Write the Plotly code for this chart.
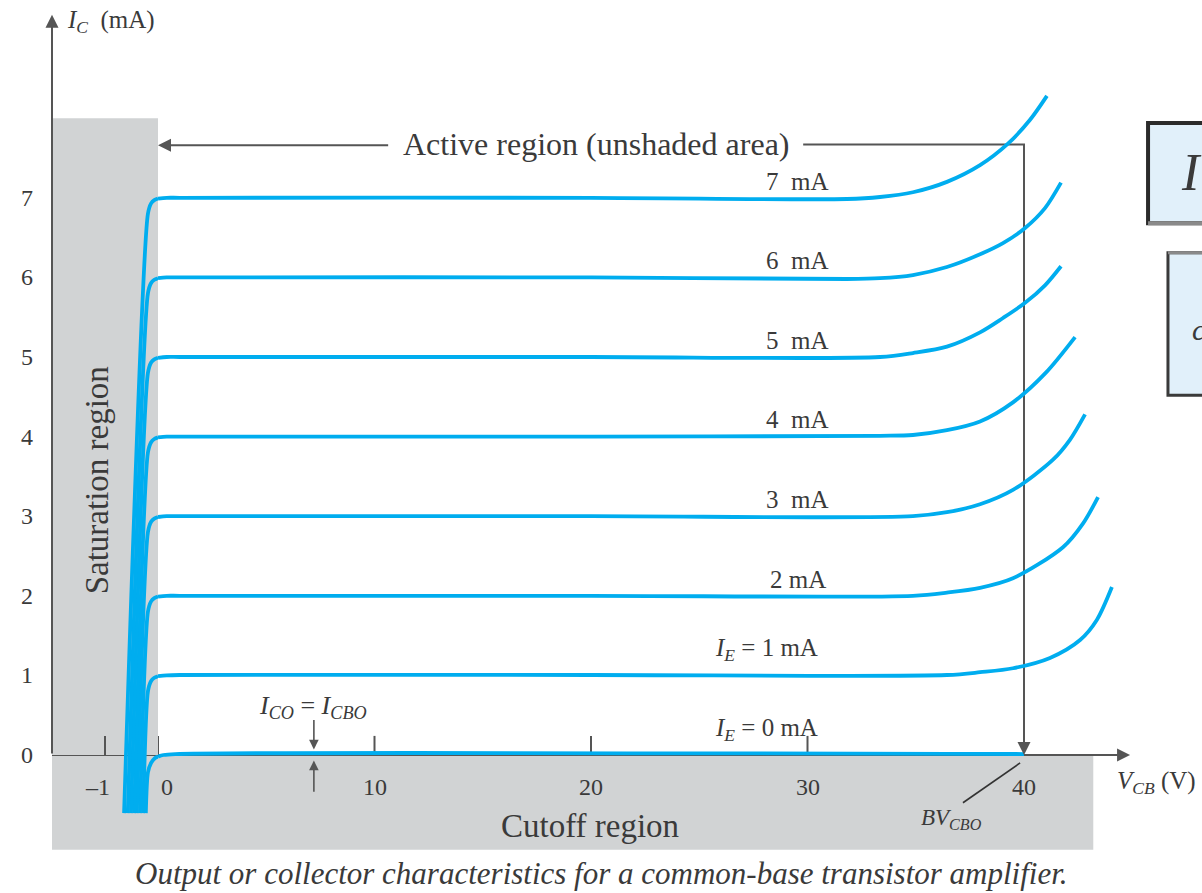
import plotly.graph_objects as go

# ---------------- data ----------------
IE_LEVELS = [0, 1, 2, 3, 4, 5, 6, 7]
CURVE_LABELS = [
    "<i>I</i><sub><i>E</i></sub> = 0 mA",
    "<i>I</i><sub><i>E</i></sub> = 1 mA",
    "2 mA",
    "3\u00a0\u00a0mA",
    "4\u00a0\u00a0mA",
    "5\u00a0\u00a0mA",
    "6\u00a0\u00a0mA",
    "7\u00a0\u00a0mA",
]

# saturation-region part of each curve (V_CB < 0, drawn on the expanded negative scale)
SAT_V = [
    [-0.23, -0.19, -0.13, -0.06, 0.0],
    [-0.28, -0.19, -0.13, -0.07, 0.0],
    [-0.34, -0.19, -0.13, -0.07, 0.0],
    [-0.40, -0.19, -0.13, -0.07, 0.0],
    [-0.45, -0.19, -0.13, -0.07, 0.0],
    [-0.51, -0.19, -0.13, -0.07, 0.0],
    [-0.57, -0.19, -0.13, -0.07, 0.0],
    [-0.64, -0.19, -0.13, -0.07, 0.0],
]
SAT_I = [
    [-0.73, -0.22, -0.10, -0.04, -0.02],
    [-0.73, 0.80, 0.93, 0.97, 0.99],
    [-0.73, 1.80, 1.93, 1.97, 1.99],
    [-0.73, 2.80, 2.93, 2.97, 2.99],
    [-0.73, 3.80, 3.93, 3.97, 3.99],
    [-0.73, 4.80, 4.93, 4.97, 4.99],
    [-0.73, 5.80, 5.93, 5.97, 5.99],
    [-0.73, 6.80, 6.93, 6.97, 6.99],
]

# active-region part of each curve (V_CB >= 0, volts / mA)
ACT_V = [
    [0.0, 0.25, 0.8, 40.0],
    [0.0, 0.4, 1.0, 20.0, 36.44, 37.97, 39.49, 41.2, 42.59, 43.37, 44.06],
    [0.0, 0.4, 1.0, 20.0, 34.87, 36.44, 37.97, 39.49, 41.80, 42.73, 43.42],
    [0.0, 0.4, 1.0, 20.0, 34.87, 36.44, 37.97, 39.49, 41.34, 42.12, 42.82],
    [0.0, 0.4, 1.0, 20.0, 33.35, 34.87, 36.44, 37.97, 39.49, 41.0, 42.36],
    [0.0, 0.4, 1.0, 20.0, 33.35, 34.87, 36.44, 37.97, 39.03, 40.05, 40.97, 41.71],
    [0.0, 0.4, 1.0, 20.0, 31.82, 33.35, 34.87, 36.44, 37.97, 39.03, 40.05, 40.97, 41.71],
    [0.0, 0.4, 1.0, 20.0, 31.82, 33.35, 34.87, 36.44, 37.97, 39.26, 40.28, 41.06],
]
ACT_I = [
    [-0.02, 0.0, 0.012, 0.012],
    [0.99, 1.0, 1.005, 1.005, 1.005, 1.04, 1.09, 1.22, 1.445, 1.70, 2.11],
    [1.99, 2.0, 2.0, 2.0, 2.0, 2.04, 2.10, 2.22, 2.61, 2.91, 3.24],
    [2.99, 3.0, 3.0, 3.0, 3.0, 3.05, 3.15, 3.33, 3.71, 3.96, 4.28],
    [3.99, 4.0, 4.0, 4.0, 4.01, 4.02, 4.08, 4.19, 4.43, 4.80, 5.25],
    [4.99, 5.0, 5.0, 5.0, 5.0, 5.05, 5.13, 5.31, 5.49, 5.68, 5.90, 6.14],
    [5.99, 6.0, 6.0, 6.0, 5.98, 5.99, 6.03, 6.13, 6.29, 6.43, 6.62, 6.87, 7.19],
    [6.99, 7.0, 7.0, 7.0, 6.985, 7.01, 7.07, 7.20, 7.41, 7.68, 7.98, 8.28],
]

Y_TICKS = [1, 2, 3, 4, 5, 6, 7]
Y_TICK_LABELS = ["0", "1", "2", "3", "4", "5", "6", "7"]
X_TICKS = [-1, 0, 10, 20, 30, 40]
X_TICK_LABELS = ["\u20131", "0", "10", "20", "30", "40"]

BV_CBO = 40          # breakdown voltage (V)
V_ICBO = 7.2         # position of the I_CBO marker (V)
SAT_TOP = 8.0        # top of the saturation shading (mA)
CUT_BOTTOM = -1.19   # bottom of the cutoff shading (mA)
ACTIVE_LINE_I = 7.67 # level of the "Active region" bracket (mA)

# ---------------- styling / geometry ----------------
W, H = 1202, 893
BLUE = "#00adef"
SHADE = "#d1d3d4"
INK = "#3a3a3a"
AX = "#555555"
SERIF = "Liberation Serif, Times New Roman, serif"

PX_PER_V = 21.65      # positive V_CB scale
PX_PER_V_NEG = 53.0   # expanded negative V_CB scale
PX_PER_MA = 79.6
X0_PX, Y0_PX = 158, 755
YAX_PX = 52

X_RANGE = [-X0_PX / PX_PER_V, (W - X0_PX) / PX_PER_V]
Y_RANGE = [-(H - Y0_PX) / PX_PER_MA, Y0_PX / PX_PER_MA]
YAX_V = (YAX_PX - X0_PX) / PX_PER_V           # y-axis position on the main x scale
NEG_RANGE = [-(X0_PX - YAX_PX) / PX_PER_V_NEG, 0.0]

fig = go.Figure()

for i, lvl in enumerate(IE_LEVELS):
    fig.add_trace(go.Scatter(
        x=SAT_V[i], y=SAT_I[i], xaxis="x2", yaxis="y", mode="lines",
        line=dict(color=BLUE, width=3.8, shape="spline", smoothing=0.7),
        hoverinfo="skip", showlegend=False))
    fig.add_trace(go.Scatter(
        x=ACT_V[i], y=ACT_I[i], xaxis="x", yaxis="y", mode="lines",
        line=dict(color=BLUE, width=3.8, shape="spline", smoothing=0.85),
        hoverinfo="skip", showlegend=False))

shapes = []
# shaded regions
shapes.append(dict(type="rect", xref="x", yref="y", x0=YAX_V, x1=43.2, y0=CUT_BOTTOM, y1=0,
                   fillcolor=SHADE, line=dict(width=0), layer="below"))
shapes.append(dict(type="rect", xref="x2", yref="y", x0=NEG_RANGE[0], x1=0, y0=0, y1=SAT_TOP,
                   fillcolor=SHADE, line=dict(width=0), layer="below"))
# x axis line
shapes.append(dict(type="line", xref="x", yref="y", x0=YAX_V, x1=44.3, y0=0, y1=0,
                   line=dict(color=AX, width=2), layer="below"))
# y ticks
for t in Y_TICKS:
    shapes.append(dict(type="line", xref="x", yref="y", x0=YAX_V, x1=YAX_V + 0.9, y0=t, y1=t,
                       line=dict(color=AX, width=2), layer="below"))
# x ticks
for t in X_TICKS[:-1]:
    shapes.append(dict(type="line", xref="x2" if t < 0 else "x", yref="y", x0=t, x1=t, y0=0, y1=0.24,
                       line=dict(color=AX, width=2), layer="below"))
# active-region bracket to BV_CBO
shapes.append(dict(type="path", xref="x", yref="y",
                   path=f"M 29.8,{ACTIVE_LINE_I} L {BV_CBO},{ACTIVE_LINE_I} L {BV_CBO},0.5",
                   line=dict(color=AX, width=2), layer="below"))
# BV_CBO leader
shapes.append(dict(type="line", xref="x", yref="y", x0=37.18, y0=-0.60, x1=39.82, y1=-0.10,
                   line=dict(color="#333333", width=1.6), layer="above"))
# cropped boxes at right edge (page artefacts)
shapes.append(dict(type="rect", xref="x", yref="y", x0=45.73, x1=52, y0=6.68, y1=7.94,
                   fillcolor="#e1f0fa", line=dict(color="#2b2b2b", width=4), layer="above"))
shapes.append(dict(type="line", xref="x", yref="y", x0=45.73, x1=52, y0=6.68, y1=6.68,
                   line=dict(color="#8a8a8a", width=4), layer="above"))
shapes.append(dict(type="rect", xref="x", yref="y", x0=46.65, x1=52, y0=4.52, y1=6.31,
                   fillcolor="#e1f0fa", line=dict(color="#3a3a3a", width=3), layer="above"))
shapes.append(dict(type="line", xref="x", yref="y", x0=46.65, x1=52, y0=6.31, y1=6.31,
                   line=dict(color="#8a8a8a", width=3), layer="above"))

ann = []
def txt(x, y, s, size=26, xref="x", yref="y", style="normal", **kw):
    d = dict(x=x, y=y, xref=xref, yref=yref, text=s, showarrow=False,
             xanchor="center", yanchor="middle",
             font=dict(family=SERIF, size=size, color=INK, style=style))
    d.update(kw)
    ann.append(d)

def arrow(xt, yt, xa, ya, xref="x", width=2, size=1.3):
    ann.append(dict(x=xt, y=yt, ax=xa, ay=ya, xref=xref, yref="y", axref=xref, ayref="y",
                    text="", showarrow=True, arrowhead=2, arrowsize=size, arrowwidth=width,
                    arrowcolor=AX, standoff=0))

# axes arrows
arrow(YAX_V, 9.30, YAX_V, 0)
arrow(44.9, 0, 42.5, 0)
arrow(BV_CBO, 0.0, BV_CBO, 0.9)
arrow(0.0, 7.66, 10.7, 7.66)
# I_CBO markers
arrow(V_ICBO, 0.07, V_ICBO, 0.46, width=1.6, size=1.2)
arrow(V_ICBO, -0.07, V_ICBO, -0.48, width=1.6, size=1.2)

# tick labels
for t, lab in zip([0] + Y_TICKS, Y_TICK_LABELS):
    txt(-6.05, t, lab, size=24)
x_shift = {-1: -8, 0: 9}
for t, lab in zip(X_TICKS, X_TICK_LABELS):
    txt(t, -0.40, lab, size=24, xref="x2" if t < 0 else "x", xshift=x_shift.get(t, 0))

# curve labels
for lvl, lab in zip(IE_LEVELS, CURVE_LABELS):
    if lvl < 2:
        txt(28.1, lvl + 0.32, lab, size=25)
    else:
        txt(29.55, lvl + 0.21, lab, size=25)

# axis titles and region labels
txt(YAX_V + 0.6, 9.21, "<i>I</i><sub><i>C</i></sub>\u00a0\u00a0(mA)", size=25, xanchor="left")
txt(44.2, -0.35, "<i>V</i><sub><i>CB</i></sub> (V)", size=25, xanchor="left")
txt(36.63, -0.80, "<i>BV</i><sub><i>CBO</i></sub>", size=23)
txt(V_ICBO - 0.05, 0.60, "<i>I</i><sub><i>CO</i></sub> = <i>I</i><sub><i>CBO</i></sub>", size=26)
txt(20.23, ACTIVE_LINE_I, "Active region (unshaded area)", size=32)
txt(19.95, -0.89, "Cutoff region", size=33)
txt(-2.82, 3.45, "Saturation region", size=33, textangle=-90)
txt(0.5, 1 - 873 / H, "Output or collector characteristics for a common-base transistor amplifier.",
    size=31, xref="paper", yref="paper", style="italic")
# cropped text inside the right-edge boxes
txt(47.75, 7.32, "<i>I</i>", size=52)
txt(48.05, 5.34, "<i>c</i>", size=30)

fig.update_layout(
    width=W, height=H, autosize=False,
    margin=dict(l=0, r=0, t=0, b=0),
    paper_bgcolor="white", plot_bgcolor="rgba(0,0,0,0)",
    showlegend=False,
    xaxis=dict(domain=[0, 1], range=X_RANGE, visible=False, fixedrange=True),
    xaxis2=dict(domain=[YAX_PX / W, X0_PX / W], range=NEG_RANGE, anchor="y",
                visible=False, fixedrange=True),
    yaxis=dict(domain=[0, 1], range=Y_RANGE, visible=False, fixedrange=True),
    shapes=shapes,
    annotations=ann,
)

fig.write_html("out.html")
